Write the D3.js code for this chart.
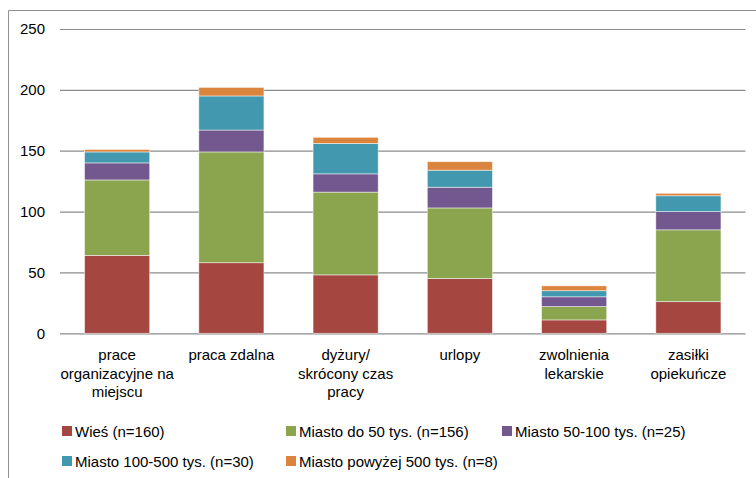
<!DOCTYPE html>
<html>
<head>
<meta charset="utf-8">
<script src="https://cdn.jsdelivr.net/npm/d3@7"></script>
<style>
  html, body { margin: 0; padding: 0; background: #fff; }
  svg { display: block; font-family: "Liberation Sans", Arial, sans-serif; }
</style>
</head>
<body>
<svg id="chart" width="756" height="478"></svg>
<script>
// Categories (line breaks mark the wrapped axis labels)
const categories = [
  "prace\norganizacyjne na\nmiejscu",
  "praca zdalna",
  "dyżury/\nskrócony czas\npracy",
  "urlopy",
  "zwolnienia\nlekarskie",
  "zasiłki\nopiekuńcze"
];

// Series, stacked bottom to top
const seriesNames = [
  "Wieś (n=160)",
  "Miasto do 50 tys. (n=156)",
  "Miasto 50-100 tys. (n=25)",
  "Miasto 100-500 tys. (n=30)",
  "Miasto powyżej 500 tys. (n=8)"
];
const wies        = [64, 58, 48, 45, 11, 26];
const miastoDo50  = [62, 91, 68, 58, 11, 59];
const miasto50100 = [14, 18, 15, 17,  8, 15];
const miasto100500= [ 9, 28, 25, 14,  5, 13];
const miasto500   = [ 2,  7,  5,  7,  4,  2];

const yTicks = [0, 50, 100, 150, 200, 250];
const colors = ["#A64641", "#8AA54D", "#72588E", "#4298AE", "#DB843D"];

const seriesValues = [wies, miastoDo50, miasto50100, miasto100500, miasto500];
const keys = seriesNames.map((_, i) => "s" + i);
const rows = categories.map((c, ci) => {
  const r = { cat: c };
  keys.forEach((k, si) => { r[k] = seriesValues[si][ci]; });
  return r;
});

const svg = d3.select("#chart");

// Outer frame (top and left edges)
svg.append("path")
  .attr("d", "M8.5,478 V10.5 H756")
  .attr("fill", "none")
  .attr("stroke", "#8f8f8f")
  .attr("stroke-width", 1);

const x = d3.scaleBand()
  .domain(categories)
  .range([60, 745.5])
  .paddingInner(0.43)
  .paddingOuter(0.215);

const y = d3.scaleLinear()
  .domain([0, 250])
  .range([333.3, 29]);

// Gridlines and value labels
const yAxis = d3.axisLeft(y)
  .tickValues(yTicks)
  .tickSize(-(745.5 - 60))
  .tickPadding(15)
  .tickFormat(d3.format("d"));

const gy = svg.append("g")
  .attr("transform", "translate(60,0)")
  .call(yAxis);
gy.select(".domain").remove();
gy.selectAll(".tick line")
  .attr("stroke", "#8c8c8c")
  .attr("stroke-width", 1.2);
gy.selectAll(".tick text")
  .attr("fill", "#000")
  .style("font-size", "15px")
  .style("font-family", "'Liberation Sans', Arial, sans-serif");

// Stacked bars
const stacked = d3.stack().keys(keys)(rows);
svg.append("g")
  .selectAll("g")
  .data(stacked)
  .join("g")
  .attr("fill", (d, i) => colors[i])
  .selectAll("rect")
  .data(d => d)
  .join("rect")
  .attr("x", d => x(d.data.cat))
  .attr("y", d => y(d[1]))
  .attr("width", x.bandwidth())
  .attr("height", d => y(d[0]) - y(d[1]))
  .attr("stroke", "#ffffff")
  .attr("stroke-opacity", 0.6)
  .attr("stroke-width", 0.8);

// Category axis
const xAxis = d3.axisBottom(x).tickSize(0).tickPadding(0);
const gx = svg.append("g")
  .attr("transform", "translate(0,333.3)")
  .call(xAxis);
gx.select(".domain").remove();
gx.selectAll(".tick text").each(function (d) {
  const t = d3.select(this);
  t.text(null)
    .attr("y", 0)
    .attr("dy", null)
    .attr("fill", "#000")
    .style("font-size", "15px")
    .style("font-family", "'Liberation Sans', Arial, sans-serif");
  d.split("\n").forEach((line, i) => {
    t.append("tspan")
      .attr("x", 0)
      .attr("y", 27 + i * 18.5)
      .text(line);
  });
});

// Legend
const legendPos = [[62, 431], [286, 431], [502, 431], [62, 461], [286, 461]];
const legend = svg.append("g")
  .selectAll("g")
  .data(seriesNames)
  .join("g")
  .attr("transform", (d, i) => `translate(${legendPos[i][0]},${legendPos[i][1]})`);
legend.append("rect")
  .attr("x", 0)
  .attr("y", -5)
  .attr("width", 10)
  .attr("height", 10)
  .attr("fill", (d, i) => colors[i]);
legend.append("text")
  .attr("x", 13)
  .attr("y", 5.5)
  .style("font-size", "15px")
  .attr("fill", "#000")
  .text(d => d);
</script>
</body>
</html>
